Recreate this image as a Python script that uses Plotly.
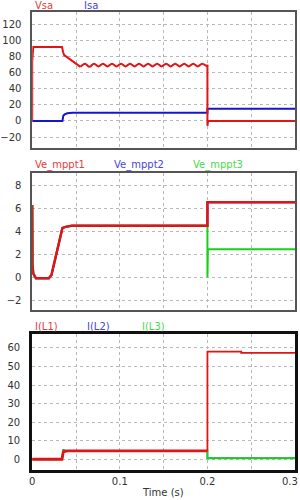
import plotly.graph_objects as go

# ---------------- data ----------------
# Panel 1: Vsa (red) and Isa (blue)
vsa_t = [0, 0, 0.0012, 0.034, 0.0353, 0.0365, 0.055,
         0.0602, 0.0653, 0.0705, 0.0756, 0.0808, 0.0859, 0.0911, 0.0962, 0.1014, 0.1065,
         0.1117, 0.1168, 0.1220, 0.1271, 0.1323, 0.1374, 0.1426, 0.1477, 0.1529, 0.1580,
         0.1632, 0.1683, 0.1735, 0.1786, 0.1838, 0.1889, 0.1941, 0.1992,
         0.2, 0.2, 0.2008, 0.3]
vsa_v = [0, 73, 91.5, 91.5, 85, 81.5, 67,
         71, 67, 71, 67.5, 71, 67.5, 71, 67.5, 71, 67.5,
         71, 67.5, 71, 67.5, 71, 67.5, 71, 67.5, 71, 67.5,
         71, 67.5, 71, 67.5, 71, 67.5, 71, 68,
         69.5, -6, 0, 0]
isa_t = [0, 0.0345, 0.0355, 0.037, 0.040, 0.046, 0.2, 0.2, 0.3]
isa_v = [0, 0, 6.5, 8, 9.5, 10, 10, 15, 15]

# Panel 2: Ve_mppt1 (red), Ve_mppt2 (blue), Ve_mppt3 (green)
m1_t = [0, 0.0003, 0.0013, 0.0043, 0.019, 0.022, 0.0345, 0.038, 0.045, 0.2, 0.2, 0.3]
m1_v = [6.3, 1.06, 0.3, -0.1, -0.1, 0.2, 4.3, 4.4, 4.5, 4.5, 6.55, 6.55]
m2_t = m1_t
m2_v = m1_v
m3_t = [0, 0.0003, 0.0013, 0.0043, 0.019, 0.022, 0.0345, 0.038, 0.045, 0.2, 0.2, 0.2005, 0.3]
m3_v = [6.3, 1.06, 0.3, -0.1, -0.1, 0.2, 4.3, 4.4, 4.5, 4.5, 0, 2.45, 2.45]

# Panel 3: I(L1) (red), I(L2) (blue), I(L3) (green)
l1_t = [0, 0.034, 0.0355, 0.040, 0.2, 0.2, 0.2386, 0.2386, 0.3]
l1_v = [0, 0, 4, 4.5, 4.5, 58, 58, 57.3, 57.3]
l2_t = [0, 0.034, 0.0355, 0.040, 0.2, 0.2, 0.3]
l2_v = [0, 0, 5, 4.5, 4.5, 0.5, 0.5]
l3_t = [0, 0.034, 0.0355, 0.040, 0.2, 0.2, 0.3]
l3_v = [0, 0, 4.8, 4.5, 4.5, 0.5, 0.5]

x_tickvals = [0, 0.05, 0.1, 0.15, 0.2, 0.25, 0.3]
x_ticktext = ["0", "", "0.1", "", "0.2", "", "0.3"]

y1_ticks = [-20, 0, 20, 40, 60, 80, 100, 120]
y2_ticks = [-2, 0, 2, 4, 6, 8]
y3_ticks = [0, 10, 20, 30, 40, 50, 60]

RED = "#e01515"
BLUE = "#1515d0"
GREEN = "#18d018"
RED_T = "#e83c3c"
BLUE_T = "#4646dc"
GREEN_T = "#4cd84c"

W, H = 300, 500
def px(x):
    return x / W
def py(y):
    return 1 - y / H

fig = go.Figure()

def add(t, v, color, xa, ya, width=2, shape="linear"):
    fig.add_trace(go.Scatter(x=t, y=v, mode="lines",
                             line=dict(color=color, width=width, shape=shape, smoothing=1.0),
                             xaxis=xa, yaxis=ya, showlegend=False, hoverinfo="skip"))

add(isa_t, isa_v, BLUE, "x", "y")
# Vsa: steps drawn straight, the ripple section smoothed
add(vsa_t[:7], vsa_v[:7], RED, "x", "y")
add(vsa_t[6:36], vsa_v[6:36], RED, "x", "y", 2, "spline")
add(vsa_t[35:], vsa_v[35:], RED, "x", "y")
add(m2_t, m2_v, BLUE, "x2", "y2")
add(m3_t, m3_v, GREEN, "x2", "y2")
add(m1_t, m1_v, RED, "x2", "y2", 2.5)
add(l2_t, l2_v, BLUE, "x3", "y3", 1.4)
add(l3_t, l3_v, GREEN, "x3", "y3")
add(l1_t[:5], l1_v[:5], RED, "x3", "y3", 2.8)
add(l1_t[4:], l1_v[4:], RED, "x3", "y3", 1.8)

xdom = [px(29.5), px(295)]
tickfont = dict(family="DejaVu Sans", size=10, color="#333333")

def xaxis(anchor, show_labels, linecolor, linewidth):
    return dict(domain=xdom, anchor=anchor, range=[0, 0.3],
                tickvals=x_tickvals, ticktext=x_ticktext, showticklabels=show_labels,
                showgrid=True, gridcolor="#b8b8b8", griddash="dot", gridwidth=1,
                zeroline=False, showline=True, mirror=True,
                linecolor=linecolor, linewidth=linewidth, ticks="",
                tickfont=tickfont, ticklabelstandoff=0)

def yaxis(anchor, dom, rng, ticks, linecolor, linewidth):
    return dict(domain=dom, anchor=anchor, range=rng, tickvals=ticks,
                showgrid=True, gridcolor="#b8b8b8", griddash="dot", gridwidth=1,
                zeroline=False, showline=True, mirror=True,
                linecolor=linecolor, linewidth=linewidth, ticks="",
                tickfont=tickfont, ticklabelstandoff=7)

fig.update_layout(
    width=W, height=H, margin=dict(l=0, r=0, t=0, b=0),
    paper_bgcolor="white", plot_bgcolor="white",
    xaxis=xaxis("y", False, "#555555", 1.5),
    xaxis2=xaxis("y2", False, "#555555", 1.5),
    xaxis3=xaxis("y3", True, "#111111", 3),
    yaxis=yaxis("x", [py(148), py(12)], [-33.6, 135], y1_ticks, "#555555", 1.5),
    yaxis2=yaxis("x2", [py(310), py(173)], [-2.87, 9.11], y2_ticks, "#555555", 1.5),
    yaxis3=yaxis("x3", [py(470), py(334)], [-5.8, 67.5], y3_ticks, "#111111", 3),
)

labels = [
    ("Vsa", 30, 5, RED_T), ("Isa", 80, 5, BLUE_T),
    ("Ve_mppt1", 30, 165, RED_T), ("Ve_mppt2", 110, 165, BLUE_T), ("Ve_mppt3", 190, 165, GREEN_T),
    ("I(L1)", 30, 326, RED_T), ("I(L2)", 83, 326, BLUE_T), ("I(L3)", 138, 326, GREEN_T),
]
for txt, x, y, c in labels:
    fig.add_annotation(text=txt, x=px(x), y=py(y), xref="paper", yref="paper",
                       xanchor="left", yanchor="middle", showarrow=False,
                       font=dict(family="DejaVu Sans", size=10, color=c))

# last x tick label (kept inside the page edge)
fig.add_annotation(text=x_ticktext[-1], x=1.0, y=py(481), xref="paper", yref="paper",
                   xanchor="right", yanchor="middle", showarrow=False,
                   font=tickfont)

fig.add_annotation(text="Time (s)", x=px(162), y=py(492), xref="paper", yref="paper",
                   xanchor="center", yanchor="middle", showarrow=False,
                   font=dict(family="DejaVu Sans", size=10, color="#333333"))

fig.write_html("out.html")
